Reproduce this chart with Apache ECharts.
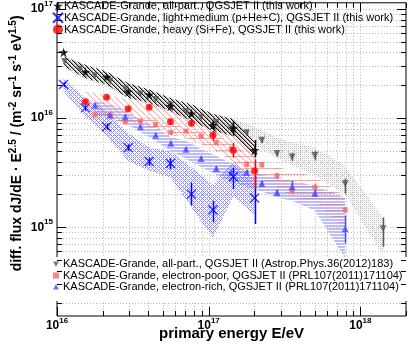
<!DOCTYPE html>
<html>
<head>
<meta charset="utf-8">
<script src="https://cdn.jsdelivr.net/npm/echarts@6/dist/echarts.min.js"></script>
<style>
html, body { margin: 0; padding: 0; background: #fff; }
#chart { width: 409px; height: 351px; }
</style>
</head>
<body>
<div id="chart"></div>
<script>
var FONT = '"Liberation Sans", Arial, Helvetica, sans-serif'

// axis ranges
var xMin = 1e16, xMax = 2e18
var yMin = 1.535e14, yMax = 1.14e17
var xDecades = [1e16, 1e17, 1e18]
var yDecades = [1e14, 1e15, 1e16, 1e17]

// this work: energy bins (eV)
var binE = [1.104e16, 1.538e16, 2.123e16, 2.944e16, 4.055e16, 5.598e16, 7.691e16, 1.067e17, 1.455e17, 2.009e17]
// all-particle (stars)
var allFlux = [4.0e16, 2.64e16, 2.38e16, 1.74e16, 1.64e16, 1.29e16, 1.10e16, 8.6e15, 8.06e15, 5.08e15]
var allLo = [3.85e16, 2.55e16, 2.30e16, 1.68e16, 1.58e16, 1.23e16, 1.04e16, 7.9e15, 6.9e15, 4.35e15]
var allHi = [4.15e16, 2.73e16, 2.46e16, 1.80e16, 1.70e16, 1.35e16, 1.16e16, 9.4e15, 9.3e15, 6.3e15]
var allBandUp = [3.67e16, 3.09e16, 2.68e16, 2.10e16, 1.83e16, 1.53e16, 1.34e16, 1.09e16, 9.8e15, 6.04e15]
var allBandLo = [2.98e16, 2.33e16, 2.03e16, 1.53e16, 1.38e16, 1.16e16, 9.4e15, 7.6e15, 6.85e15, 4.32e15]
// light+medium (blue X)
var lmFlux = [2.03e16, 1.24e16, 8.34e15, 5.36e15, 4.0e15, 3.83e15, 2.01e15, 1.44e15, 2.90e15, 1.85e15]
var lmLo = [1.93e16, 1.17e16, 7.8e15, 5.0e15, 3.65e15, 3.4e15, 1.58e15, 1.11e15, 2.24e15, 1.07e15]
var lmHi = [2.13e16, 1.31e16, 8.9e15, 5.75e15, 4.35e15, 4.3e15, 2.57e15, 1.75e15, 3.52e15, 2.96e15]
var lmBandUp = [2.33e16, 1.53e16, 1.16e16, 7.35e15, 5.36e15, 5.0e15, 3.52e15, 2.45e15, 4.0e15, 2.8e15]
var lmBandLo = [1.76e16, 1.04e16, 6.85e15, 4.05e15, 3.29e15, 2.86e15, 1.52e15, 8.0e14, 1.9e15, 1.3e15]
// heavy (red circles), no point in the first bin
var hvFlux = [null, 1.41e16, 1.55e16, 1.22e16, 1.26e16, 9.25e15, 8.95e15, 7.0e15, 5.08e15, 3.29e15]
var hvLo = [null, 1.36e16, 1.50e16, 1.18e16, 1.21e16, 8.7e15, 8.4e15, 6.2e15, 4.35e15, 2.29e15]
var hvHi = [null, 1.46e16, 1.60e16, 1.27e16, 1.31e16, 9.8e15, 9.5e15, 7.7e15, 5.9e15, 4.2e15]
var hvBandUp = [null, 1.76e16, 1.62e16, 1.50e16, 1.40e16, 1.27e16, 1.14e16, 1.02e16, 8.3e15, 5.8e15]
var hvBandLo = [null, 1.08e16, 1.00e16, 9.2e15, 8.3e15, 7.3e15, 6.3e15, 5.3e15, 4.0e15, 2.4e15]

// all-particle, Astrop.Phys.36 (grey triangles)
var apE = [1.122e16, 1.413e16, 1.778e16, 2.239e16, 2.818e16, 3.548e16, 4.467e16, 5.623e16, 7.079e16, 8.913e16, 1.122e17, 1.413e17, 1.778e17, 2.239e17, 2.818e17, 3.548e17, 5.012e17, 7.943e17, 1.413e18]
var apFlux = [3.31e16, 2.82e16, 2.45e16, 2.19e16, 1.86e16, 1.66e16, 1.48e16, 1.32e16, 1.15e16, 1.02e16, 9.1e15, 8.1e15, 7.35e15, 6.27e15, 4.73e15, 4.4e15, 4.55e15, 2.50e15, 9.7e14]
var apLo = [3.22e16, 2.74e16, 2.38e16, 2.13e16, 1.81e16, 1.61e16, 1.43e16, 1.27e16, 1.11e16, 9.8e15, 8.7e15, 7.7e15, 6.95e15, 5.9e15, 4.45e15, 4.05e15, 4.1e15, 2.03e15, 6.6e14]
var apHi = [3.40e16, 2.90e16, 2.52e16, 2.25e16, 1.91e16, 1.71e16, 1.53e16, 1.37e16, 1.19e16, 1.06e16, 9.5e15, 8.5e15, 7.75e15, 6.65e15, 5.05e15, 4.8e15, 5.0e15, 2.78e15, 1.23e15]
var apBandUp = [3.75e16, 3.2e16, 2.8e16, 2.5e16, 2.15e16, 1.92e16, 1.72e16, 1.53e16, 1.34e16, 1.2e16, 1.08e16, 9.9e15, 8.9e15, 7.7e15, 6.6e15, 6.0e15, 5.4e15, 3.6e15, 1.23e15]
var apBandLo = [2.85e16, 2.4e16, 2.1e16, 1.85e16, 1.58e16, 1.41e16, 1.26e16, 1.12e16, 9.8e15, 8.7e15, 7.7e15, 6.9e15, 6.2e15, 5.2e15, 4.3e15, 3.7e15, 3.0e15, 2.0e15, 5.5e14]

// PRL107 electron-poor (red squares) and electron-rich (blue triangles)
var prlE = [1.778e16, 2.239e16, 2.818e16, 3.548e16, 4.467e16, 5.623e16, 7.079e16, 8.913e16, 1.122e17, 1.413e17, 1.778e17, 2.239e17, 2.818e17, 3.548e17, 5.012e17, 7.943e17]
var epFlux = [1.072e16, 1.065e16, 9.2e15, 9.4e15, 8.73e15, 7.38e15, 7.6e15, 6.85e15, 5.96e15, 5.21e15, 3.78e15, 3.73e15, 2.96e15, 2.16e15, 2.32e15, 1.44e15]
var epLo = [1.04e16, 1.03e16, 8.9e15, 9.1e15, 8.45e15, 7.1e15, 7.3e15, 6.55e15, 5.7e15, 4.95e15, 3.55e15, 3.5e15, 2.75e15, 2.0e15, 2.15e15, 1.35e15]
var epHi = [1.10e16, 1.10e16, 9.5e15, 9.7e15, 9.0e15, 7.65e15, 7.9e15, 7.15e15, 6.2e15, 5.45e15, 4.0e15, 3.95e15, 3.15e15, 2.4e15, 2.5e15, 1.53e15]
var epBandUp = [1.158e16, 1.11e16, 1.021e16, 1.0e16, 9.59e15, 8.81e15, 8.11e15, 7.61e15, 6.85e15, 5.92e15, 4.80e15, 4.05e15, 3.57e15, 3.29e15, 2.90e15, 1.95e15]
var epBandLo = [1.021e16, 9.79e15, 9.0e15, 8.63e15, 7.94e15, 7.14e15, 6.57e15, 5.80e15, 5.0e15, 4.05e15, 3.29e15, 2.78e15, 2.35e15, 1.87e15, 1.75e15, 9.7e14]
var erFlux = [1.314e16, 1.065e16, 1.028e16, 8.34e15, 6.95e15, 5.88e15, 5.19e15, 4.26e15, 3.45e15, 3.16e15, 3.17e15, 2.52e15, 2.08e15, 2.35e15, 2.05e15, 9.7e14]
var erLo = [1.27e16, 1.03e16, 9.9e15, 8.05e15, 6.7e15, 5.65e15, 4.98e15, 4.08e15, 3.3e15, 3.0e15, 3.0e15, 2.38e15, 1.95e15, 2.1e15, 1.9e15, 7.1e14]
var erHi = [1.36e16, 1.10e16, 1.065e16, 8.65e15, 7.2e15, 6.1e15, 5.4e15, 4.45e15, 3.6e15, 3.32e15, 3.35e15, 2.67e15, 2.22e15, 2.65e15, 2.2e15, 1.28e15]
var erBandUp = [1.43e16, 1.34e16, 1.18e16, 9.6e15, 8.28e15, 6.71e15, 6.17e15, 5.21e15, 4.51e15, 3.81e15, 3.29e15, 3.02e15, 2.84e15, 2.67e15, 2.40e15, 1.87e15]
var erBandLo = [1.087e16, 1.0e16, 9.0e15, 7.45e15, 6.17e15, 5.0e15, 4.23e15, 3.57e15, 3.02e15, 2.61e15, 2.35e15, 2.12e15, 1.87e15, 1.75e15, 1.42e15, 5.19e14]

var nAll = 'KASCADE-Grande, all-part., QGSJET II (this work)'
var nLM = 'KASCADE-Grande, light+medium (p+He+C), QGSJET II (this work)'
var nHeavy = 'KASCADE-Grande, heavy (Si+Fe), QGSJET II (this work)'
var nAP = 'KASCADE-Grande, all-part., QGSJET II (Astrop.Phys.36(2012)183)'
var nEP = 'KASCADE-Grande, electron-poor, QGSJET II (PRL107(2011)171104)'
var nER = 'KASCADE-Grande, electron-rich, QGSJET II (PRL107(2011)171104)'

var STAR = 'path://M50,0L61,35L98,35L68,57L79,91L50,70L21,91L32,57L2,35L39,35Z'
var CROSS = 'path://M0,0L10,10M10,0L0,10'
var TRI_DOWN = 'path://M0,0L10,0L5,9Z'
var TRI_UP = 'path://M5,0L10,9L0,9Z'

// fill patterns drawn pixel by pixel
function pattern (w, h, paint) {
  var c = document.createElement('canvas')
  c.width = w
  c.height = h
  var ctx = c.getContext('2d')
  for (var x = 0; x < w; x++) {
    for (var y = 0; y < h; y++) {
      var col = paint(x, y)
      if (col) {
        ctx.fillStyle = col
        ctx.fillRect(x, y, 1, 1)
      }
    }
  }
  return { image: c, repeat: 'repeat' }
}
function diag (n, x, y) { return ((x - y) % n + n) % n }

var patBlack = pattern(4, 4, function (x, y) {
  var d = diag(4, x, y)
  return d === 0 ? 'rgba(0,0,0,0.95)' : (d === 1 ? 'rgba(0,0,0,0.35)' : null)
})
var patRed = pattern(6, 6, function (x, y) {
  var d = diag(6, x, y)
  return d === 0 ? 'rgba(255,135,135,0.7)' : (d === 1 ? 'rgba(255,170,170,0.25)' : null)
})
var patBlueX = pattern(4, 4, function (x, y) {
  return (diag(4, x, y) === 0 || (x + y) % 4 === 0) ? 'rgba(70,70,255,0.62)' : null
})
var patBlueStripe = pattern(1, 3, function (x, y) {
  return y < 2 ? 'rgb(188,188,250)' : null
})
var patRedStripe = pattern(1, 6, function (x, y) {
  return y === 0 ? 'rgba(245,100,100,0.6)' : null
})
var patGrey = pattern(2, 2, function (x, y) {
  return (x === 0 && y === 0) ? 'rgb(192,192,192)' : ((x === 1 && y === 1) ? 'rgb(236,236,236)' : null)
})

function band (E, up, lo, fill, z) {
  var rows = []
  for (var i = 0; i < E.length; i++) {
    if (up[i] != null) rows.push([E[i], up[i], lo[i]])
  }
  return {
    type: 'custom',
    z: z,
    silent: true,
    clip: true,
    data: [[rows[0][0], rows[0][1]]],
    renderItem: function (params, api) {
      var pts = []
      rows.forEach(function (r) { pts.push(api.coord([r[0], r[1]])) })
      for (var j = rows.length - 1; j >= 0; j--) pts.push(api.coord([rows[j][0], rows[j][2]]))
      return { type: 'polygon', shape: { points: pts }, style: { fill: fill } }
    }
  }
}

function errBars (E, lo, hi, color, width) {
  var rows = []
  for (var i = 0; i < E.length; i++) {
    if (lo[i] != null) rows.push([E[i], lo[i], hi[i]])
  }
  return {
    type: 'custom',
    z: 3,
    silent: true,
    data: rows,
    encode: { x: 0, y: [1, 2] },
    renderItem: function (params, api) {
      var a = api.coord([api.value(0), api.value(1)])
      var b = api.coord([api.value(0), api.value(2)])
      var px = Math.round(a[0]) + 0.5
      return { type: 'line', shape: { x1: px, y1: a[1], x2: px, y2: b[1] }, style: { stroke: color, lineWidth: width } }
    }
  }
}

function points (E, F) {
  var out = []
  for (var i = 0; i < E.length; i++) {
    if (F[i] != null) out.push([E[i], F[i]])
  }
  return out
}

function marker (name, E, F, symbol, size, itemStyle) {
  return {
    type: 'scatter',
    name: name,
    z: 4,
    silent: true,
    symbol: symbol,
    symbolSize: size,
    itemStyle: itemStyle,
    data: points(E, F)
  }
}

// tick values on both axes (1..9 per decade)
var xTicks = []
xDecades.forEach(function (d) {
  for (var m = 1; m <= 9; m++) if (m * d <= xMax * 1.0001) xTicks.push({ v: m * d, major: m === 1 })
})
var yTicks = []
yDecades.forEach(function (d) {
  for (var m = 1; m <= 9; m++) if (m * d >= yMin && m * d <= yMax) yTicks.push({ v: m * d, major: m === 1 })
})

function gridLines (params, api) {
  var cs = params.coordSys
  var kids = []
  var st = { stroke: '#b8b8b8', lineWidth: 1, lineDash: [1, 2] }
  xTicks.forEach(function (t) {
    var px = Math.round(api.coord([t.v, 1e16])[0]) + 0.5
    if (px > cs.x + 1 && px < cs.x + cs.width - 1) kids.push({ type: 'line', shape: { x1: px, y1: cs.y, x2: px, y2: cs.y + cs.height }, style: st })
  })
  yTicks.forEach(function (t) {
    var py = Math.round(api.coord([1e17, t.v])[1]) + 0.5
    if (py > cs.y + 1 && py < cs.y + cs.height - 1) kids.push({ type: 'line', shape: { x1: cs.x, y1: py, x2: cs.x + cs.width, y2: py }, style: st })
  })
  return { type: 'group', children: kids }
}

function frameTicks (params, api) {
  var cs = params.coordSys
  var kids = []
  var st = { stroke: '#000', lineWidth: 1 }
  var x0 = cs.x, x1 = cs.x + cs.width, y0 = cs.y, y1 = cs.y + cs.height
  xTicks.forEach(function (t) {
    var px = Math.round(api.coord([t.v, 1e16])[0]) + 0.5
    var len = t.major ? 9 : 5
    kids.push({ type: 'line', shape: { x1: px, y1: y1, x2: px, y2: y1 - len }, style: st })
    kids.push({ type: 'line', shape: { x1: px, y1: y0, x2: px, y2: y0 + len }, style: st })
  })
  yTicks.forEach(function (t) {
    var py = Math.round(api.coord([1e17, t.v])[1]) + 0.5
    var len = t.major ? 9 : 5
    kids.push({ type: 'line', shape: { x1: x0, y1: py, x2: x0 + len, y2: py }, style: st })
    kids.push({ type: 'line', shape: { x1: x1, y1: py, x2: x1 - len, y2: py }, style: st })
  })
  return { type: 'group', children: kids }
}

function powLabel (v) {
  var lg = Math.log10(v)
  var e = Math.round(lg)
  if (Math.abs(lg - e) > 1e-6) return ''
  return '{b|10}{s|' + e + '}'
}
var labelRich = {
  b: { fontSize: 12, fontWeight: 'bold', fontFamily: FONT, color: '#000', lineHeight: 12 },
  s: { fontSize: 8, fontWeight: 'bold', fontFamily: FONT, color: '#000', padding: [0, 0, 10, 0] }
}

var chart = echarts.init(document.getElementById('chart'), null, { renderer: 'canvas' })
chart.setOption({
  animation: false,
  backgroundColor: '#fff',
  grid: { left: 52, right: 1, top: 1, bottom: 35, show: true, borderColor: '#000', borderWidth: 1, backgroundColor: 'transparent' },
  xAxis: {
    type: 'log',
    logBase: 10,
    min: xMin,
    max: xMax,
    name: 'primary energy E/eV',
    nameLocation: 'middle',
    nameGap: 10,
    nameMoveOverlap: false,
    nameTextStyle: { fontSize: 15, fontWeight: 'bold', fontFamily: FONT, color: '#000' },
    axisLine: { show: false },
    axisTick: { show: false },
    splitLine: { show: false },
    axisLabel: { margin: 1, formatter: powLabel, rich: labelRich }
  },
  yAxis: {
    type: 'log',
    logBase: 10,
    min: yMin,
    max: yMax,
    name: 'diff. flux dJ/dE · E{s|2.5} / (m{s|-2} sr{s|-1} s{s|-1} eV{s|1.5})',
    nameLocation: 'middle',
    nameRotate: 90,
    nameGap: 30,
    nameMoveOverlap: false,
    nameTextStyle: {
      fontSize: 14,
      fontWeight: 'bold',
      fontFamily: FONT,
      color: '#000',
      padding: [0, 0, 0, 32],
      rich: { s: { fontSize: 10, fontWeight: 'bold', fontFamily: FONT, color: '#000', padding: [0, 0, 9, 0] } }
    },
    axisLine: { show: false },
    axisTick: { show: false },
    splitLine: { show: false },
    axisLabel: { margin: 4, formatter: powLabel, rich: labelRich }
  },
  legend: [
    {
      data: [nAll, nLM, nHeavy],
      orient: 'vertical',
      left: 52,
      top: 0,
      padding: 0,
      itemGap: 0,
      itemWidth: 10,
      itemHeight: 10,
      z: 6,
      selectedMode: false,
      textStyle: { fontSize: 11, fontFamily: FONT, color: '#000', lineHeight: 11.7, padding: [0, 0, 0, -4] }
    },
    {
      data: [nAP, nEP, nER],
      orient: 'vertical',
      left: 53,
      top: 258.7,
      padding: 0,
      itemGap: 0,
      itemWidth: 6,
      itemHeight: 6,
      z: 6,
      selectedMode: false,
      textStyle: { fontSize: 11, fontFamily: FONT, color: '#000', lineHeight: 11.2, padding: [0, 0, 0, -1] }
    }
  ],
  graphic: [
    { type: 'rect', x: 53, y: 257, z: 5, silent: true, shape: { x: 0, y: 0, width: 354, height: 44 }, style: { fill: '#fff' } }
  ],
  series: [
    { type: 'custom', z: 1, silent: true, data: [[1e17, 1e16]], renderItem: gridLines },
    band(apE, apBandUp, apBandLo, patGrey, 2),
    band(prlE, erBandUp, erBandLo, patBlueStripe, 2),
    band(binE, lmBandUp, lmBandLo, patBlueX, 2),
    band(prlE, epBandUp, epBandLo, patRedStripe, 2),
    band(binE, hvBandUp, hvBandLo, patRed, 2),
    band(binE, allBandUp, allBandLo, patBlack, 2),
    errBars(apE, apLo, apHi, '#5a5a5a', 1.5),
    errBars(prlE, epLo, epHi, '#f46a6a', 1.5),
    errBars(prlE, erLo, erHi, '#4f4ff5', 1.5),
    errBars(binE, lmLo, lmHi, '#0000ff', 1.5),
    errBars(binE, hvLo, hvHi, '#ff0000', 1.5),
    errBars(binE, allLo, allHi, '#000000', 1.5),
    marker(nAP, apE, apFlux, TRI_DOWN, 7, { color: '#5a5a5a' }),
    marker(nEP, prlE, epFlux, 'rect', 5, { color: '#f46a6a' }),
    marker(nER, prlE, erFlux, TRI_UP, 7, { color: '#4f4ff5' }),
    marker(nLM, binE, lmFlux, CROSS, 9, { color: 'rgba(0,0,0,0)', borderColor: '#0000ff', borderWidth: 1.3 }),
    marker(nHeavy, binE, hvFlux, 'circle', 7, { color: '#ff0000' }),
    marker(nAll, binE, allFlux, STAR, 10, { color: '#000000' }),
    { type: 'custom', z: 7, silent: true, data: [[1e17, 1e16]], renderItem: frameTicks }
  ]
})
</script>
</body>
</html>
